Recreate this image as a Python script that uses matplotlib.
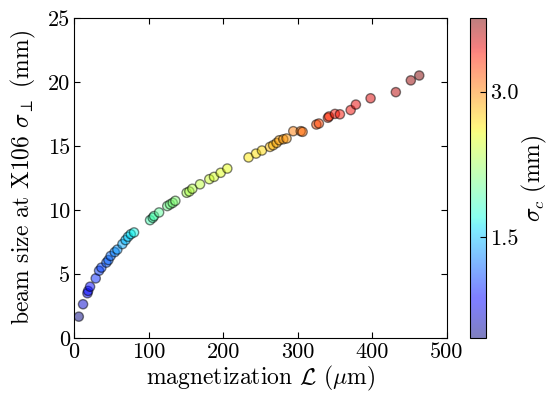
import numpy as np
import matplotlib
matplotlib.use("Agg")
import matplotlib.pyplot as plt
from matplotlib.ticker import MultipleLocator

plt.rcParams['font.family'] = 'serif'
plt.rcParams['font.serif'] = ['cmr10']
plt.rcParams['mathtext.fontset'] = 'cm'
plt.rcParams['axes.unicode_minus'] = False
plt.rcParams['xtick.direction'] = 'in'
plt.rcParams['ytick.direction'] = 'in'
plt.rcParams['xtick.top'] = True
plt.rcParams['ytick.right'] = True

# magnetization L (um)
mag = [6.3, 12, 17.9, 18.8, 21.4, 29, 33.5, 36.6, 43.3, 46, 49, 54.5, 58, 64.8,
       69, 72.4, 76, 80.4, 101.9, 105.5, 107.2, 114, 125, 128.7, 132.3, 135.8,
       151, 154.6, 158.6, 168.9, 181.4, 187.7, 196.6, 205.5, 234, 244, 252,
       262.7, 267, 271.6, 275.2, 280.6, 285, 294, 304, 306.5, 325, 328.4,
       340.5, 342, 349.9, 356.6, 371, 378, 397.7, 431.6, 451.7, 463]
# beam size at X106 (mm)
beam = [1.66, 2.63, 3.49, 3.67, 4.0, 4.65, 5.25, 5.49, 5.88, 6.08, 6.4, 6.7,
        6.9, 7.33, 7.64, 7.9, 8.1, 8.24, 9.2, 9.38, 9.52, 9.8, 10.3, 10.43,
        10.55, 10.71, 11.34, 11.44, 11.65, 12.0, 12.4, 12.58, 12.9, 13.23,
        14.1, 14.4, 14.64, 14.92, 15.05, 15.23, 15.44, 15.52, 15.58, 16.15,
        16.15, 16.1, 16.67, 16.75, 17.2, 17.3, 17.5, 17.47, 17.8, 18.23,
        18.72, 19.2, 20.12, 20.5]
# sigma_c (mm)
sigc = [0.46, 0.69, 0.86, 0.89, 0.89, 0.99, 1.05, 1.09, 1.15, 1.19, 1.22,
        1.29, 1.35, 1.42, 1.48, 1.55, 1.62, 1.68, 1.88, 1.91, 1.91, 1.98,
        2.04, 2.08, 2.11, 2.14, 2.28, 2.31, 2.34, 2.37, 2.44, 2.47, 2.51,
        2.54, 2.64, 2.67, 2.70, 2.80, 2.84, 2.87, 2.90, 2.94, 2.94, 3.03,
        3.07, 3.10, 3.20, 3.23, 3.30, 3.33, 3.40, 3.40, 3.43, 3.46, 3.50,
        3.60, 3.69, 3.76]

fig = plt.figure(figsize=(5.53, 3.98), dpi=100)
ax = fig.add_axes([0.134, 0.151, 0.674, 0.804])
cax = fig.add_axes([0.85, 0.151, 0.029, 0.804])

sc = ax.scatter(mag, beam, c=sigc, cmap='jet', s=44, alpha=0.5,
                edgecolors='k', linewidths=1.0)
ax.set_xlim(0, 500)
ax.set_ylim(0, 25)
ax.xaxis.set_major_locator(MultipleLocator(100))
ax.yaxis.set_major_locator(MultipleLocator(5))
ax.tick_params(labelsize=16, length=4, pad=3)
ax.set_xlabel(r'magnetization $\mathcal{L}$ ($\mu$m)', fontsize=17, labelpad=2)
ax.set_ylabel(r'beam size at X106 $\sigma_\perp$ (mm)', fontsize=17, labelpad=7)

cb = fig.colorbar(sc, cax=cax)
cb.locator = MultipleLocator(1.5)
cb.update_ticks()
cb.ax.tick_params(labelsize=16, length=4, pad=3)
cb.set_label(r'$\sigma_c$ (mm)', fontsize=17, labelpad=1)

fig.savefig('out.png', dpi=100)
